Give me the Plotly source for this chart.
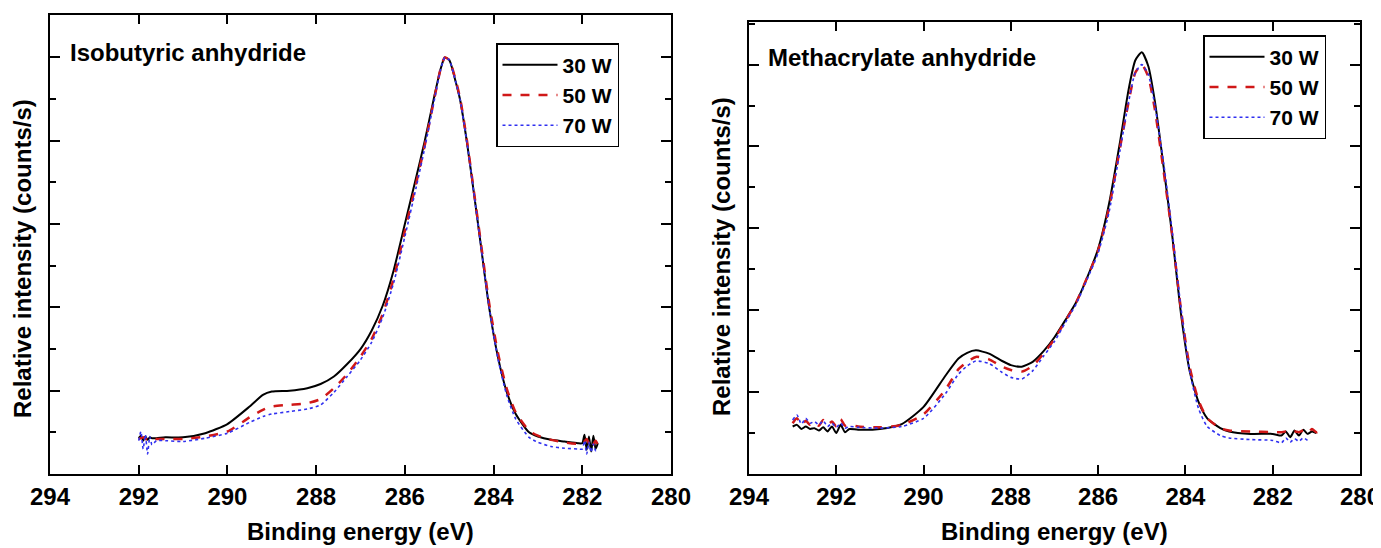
import plotly.graph_objects as go

# ---------------- data ----------------
series_names = ["30 W", "50 W", "70 W"]
x_ticks = [294, 292, 290, 288, 286, 284, 282, 280]

# Left panel: Isobutyric anhydride
iso_x_30 = [292.0, 291.95, 291.9, 291.85, 291.8, 291.75, 291.7, 291.6, 291.4, 291.0, 290.5, 290.0, 289.5, 289.2,
            289.0, 288.6, 288.2, 287.9, 287.6, 287.3, 287.0, 286.75, 286.5, 286.25, 286.0, 285.75, 285.55,
            285.35, 285.2, 285.1, 285.0, 284.85, 284.75, 284.6, 284.45, 284.3, 284.1, 283.9, 283.7, 283.5,
            283.2, 283.0, 282.7, 282.4, 282.1, 282.0, 281.95, 281.9, 281.85, 281.8, 281.75, 281.7, 281.65]
iso_y_30 = [0.43, 0.46, 0.40, 0.45, 0.41, 0.44, 0.43, 0.43, 0.44, 0.44, 0.49, 0.60, 0.81, 0.95,
            0.99, 1.00, 1.03, 1.08, 1.17, 1.32, 1.50, 1.72, 2.02, 2.45, 3.00, 3.55, 4.00,
            4.50, 4.85, 5.00, 4.97, 4.70, 4.48, 3.98, 3.40, 2.80, 2.00, 1.40, 0.98, 0.72,
            0.50, 0.45, 0.41, 0.39, 0.37, 0.37, 0.47, 0.29, 0.45, 0.27, 0.46, 0.30, 0.37]

iso_x_50 = [292.0, 291.9, 291.8, 291.7, 291.6, 291.4, 291.0, 290.5, 290.0, 289.5, 289.2,
            289.0, 288.6, 288.2, 287.9, 287.6, 287.3, 287.0, 286.75, 286.5, 286.25, 286.0, 285.75, 285.55,
            285.35, 285.2, 285.1, 285.0, 284.85, 284.75, 284.6, 284.45, 284.3, 284.1, 283.9, 283.7, 283.5,
            283.2, 283.0, 282.7, 282.4, 282.1, 282.0, 281.9, 281.8, 281.7, 281.65]
iso_y_50 = [0.42, 0.44, 0.41, 0.43, 0.42, 0.42, 0.42, 0.45, 0.51, 0.68, 0.77,
            0.81, 0.83, 0.85, 0.90, 1.03, 1.20, 1.41, 1.62, 1.92, 2.35, 2.92, 3.48, 3.95,
            4.47, 4.85, 5.00, 4.97, 4.72, 4.50, 4.00, 3.42, 2.83, 2.05, 1.45, 1.02, 0.74,
            0.52, 0.46, 0.41, 0.38, 0.36, 0.36, 0.42, 0.31, 0.40, 0.35]

iso_x_70 = [292.0, 291.95, 291.9, 291.85, 291.8, 291.75, 291.7, 291.6, 291.4, 291.0, 290.5, 290.0, 289.5, 289.2,
            289.0, 288.6, 288.2, 287.9, 287.6, 287.3, 287.0, 286.75, 286.5, 286.25, 286.0, 285.75, 285.55,
            285.35, 285.2, 285.1, 285.0, 284.85, 284.75, 284.6, 284.45, 284.3, 284.1, 283.9, 283.7, 283.5,
            283.2, 283.0, 282.7, 282.4, 282.1, 282.0, 281.95, 281.9, 281.85, 281.8, 281.75, 281.7, 281.65]
iso_y_70 = [0.40, 0.51, 0.30, 0.47, 0.24, 0.45, 0.35, 0.40, 0.40, 0.39, 0.43, 0.49, 0.62, 0.69,
            0.72, 0.75, 0.78, 0.83, 0.98, 1.17, 1.37, 1.58, 1.88, 2.30, 2.85, 3.43, 3.92,
            4.45, 4.84, 5.00, 4.97, 4.70, 4.48, 3.98, 3.40, 2.80, 2.00, 1.38, 0.94, 0.66,
            0.44, 0.38, 0.33, 0.31, 0.30, 0.30, 0.40, 0.24, 0.38, 0.26, 0.36, 0.28, 0.31]

# Right panel: Methacrylate anhydride
met_x = [293.0, 292.9, 292.8, 292.7, 292.6, 292.5, 292.4, 292.3, 292.2, 292.1, 292.0, 291.9, 291.8, 291.7,
         291.5, 291.0, 290.5, 290.0, 289.5, 289.2, 289.0, 288.8, 288.5, 288.2, 288.0, 287.75, 287.5, 287.25,
         287.0, 286.75, 286.5, 286.25, 286.0, 285.75, 285.5, 285.3, 285.15, 285.0, 284.85, 284.7, 284.5,
         284.3, 284.1, 283.9, 283.7, 283.5, 283.2, 283.0, 282.5, 282.0, 281.8, 281.7, 281.6, 281.5, 281.4,
         281.3, 281.2, 281.1, 281.0, 280.9, 280.8]
met_y_30 = [0.58, 0.60, 0.55, 0.58, 0.55, 0.56, 0.53, 0.57, 0.52, 0.58, 0.50, 0.60, 0.51, 0.55,
            0.54, 0.55, 0.61, 0.82, 1.20, 1.41, 1.48, 1.51, 1.47, 1.38, 1.33, 1.31, 1.37, 1.50,
            1.67, 1.88, 2.10, 2.40, 2.75, 3.30, 4.05, 4.70, 5.05, 5.15, 4.98, 4.55, 3.75,
            2.90, 1.95, 1.25, 0.88, 0.68, 0.56, 0.52, 0.49, 0.49, 0.47, 0.52, 0.45, 0.53, 0.47,
            0.54, 0.49, 0.52, 0.50, None, None]
met_y_50 = [0.62, 0.68, 0.60, 0.65, 0.60, 0.63, 0.59, 0.66, 0.60, 0.64, 0.58, 0.67, 0.59, 0.60,
            0.58, 0.57, 0.60, 0.73, 1.03, 1.28, 1.37, 1.43, 1.40, 1.31, 1.27, 1.25, 1.32, 1.47,
            1.65, 1.87, 2.10, 2.40, 2.73, 3.25, 3.98, 4.55, 4.90, 5.00, 4.85, 4.45, 3.70,
            2.90, 2.00, 1.30, 0.90, 0.68, 0.56, 0.53, 0.52, 0.51, 0.51, 0.52, 0.50, 0.52, 0.51,
            0.53, 0.50, 0.55, 0.51, 0.53, 0.52]
met_y_70 = [0.66, 0.72, 0.61, 0.68, 0.62, 0.64, 0.60, 0.65, 0.58, 0.62, 0.57, 0.62, 0.56, 0.58,
            0.57, 0.56, 0.58, 0.68, 0.98, 1.22, 1.32, 1.38, 1.35, 1.24, 1.18, 1.16, 1.26, 1.44,
            1.62, 1.85, 2.08, 2.38, 2.70, 3.20, 3.95, 4.55, 4.90, 5.00, 4.88, 4.50, 3.80,
            2.95, 2.02, 1.25, 0.80, 0.58, 0.47, 0.44, 0.42, 0.41, 0.38, 0.44, 0.39, 0.43, 0.40,
            0.44, 0.41, None, None, None, None]

panel_titles = ["Isobutyric anhydride", "Methacrylate anhydride"]
x_title = "Binding energy (eV)"
y_title = "Relative intensity (counts/s)"

# ---------------- figure ----------------
# page has an 8px body margin: figure occupies page pixels 8..1381 x 8..548
PAGE_W, PAGE_H, OFF = 1381, 548, 8
W, H = PAGE_W - OFF, PAGE_H - OFF
FONT = "Liberation Sans, Arial, sans-serif"
styles = [dict(color="black", width=2, dash="solid"),
          dict(color="#d01818", width=2.5, dash="dash"),
          dict(color="#3030f0", width=1.6, dash="dot")]

fig = go.Figure()
left_sets = [(iso_x_30, iso_y_30), (iso_x_50, iso_y_50), (iso_x_70, iso_y_70)]
right_sets = [(met_x, met_y_30), (met_x, met_y_50), (met_x, met_y_70)]
for i, (xs, ys) in enumerate(left_sets):
    fig.add_trace(go.Scatter(x=xs, y=ys, mode="lines", name=series_names[i], line=styles[i],
                             line_shape="spline", line_smoothing=0.6,
                             xaxis="x", yaxis="y", legend="legend"))
for i, (xs, ys) in enumerate(right_sets):
    fig.add_trace(go.Scatter(x=xs, y=ys, mode="lines", name=series_names[i], line=styles[i],
                             line_shape="spline", line_smoothing=0.6, connectgaps=False,
                             xaxis="x2", yaxis="y2", legend="legend2"))

def px_x(p):
    # page x pixel -> paper fraction
    return (p - OFF) / W

def px_y(p):
    # page y pixel (from top) -> paper fraction
    return (PAGE_H - p) / H

xaxis_common = dict(range=[294, 280], tickmode="array", tickvals=x_ticks,
                    ticktext=[str(t) for t in x_ticks], ticks="inside", ticklen=9, tickwidth=1.5,
                    tickcolor="black", showline=True, linecolor="black", linewidth=2, mirror="ticks",
                    showgrid=False, zeroline=False, automargin=False,
                    tickfont=dict(family=FONT, size=24, color="black", weight="bold"),
                    ticklabelstandoff=0)
yaxis_common = dict(tick0=0, dtick=1, ticks="inside", ticklen=10, tickwidth=1.5, tickcolor="black",
                    showticklabels=False, showline=True, linecolor="black", linewidth=2,
                    mirror="ticks", showgrid=False, zeroline=False, automargin=False,
                    minor=dict(dtick=0.5, ticks="inside", ticklen=6, tickwidth=1.5, tickcolor="black"))

legend_font = dict(family=FONT, size=21, color="black", weight="bold")
fig.update_layout(
    width=W, height=H, margin=dict(l=0, r=0, t=0, b=0),
    paper_bgcolor="white", plot_bgcolor="white",
    xaxis=dict(domain=[px_x(50), px_x(671)], anchor="y", **xaxis_common),
    yaxis=dict(domain=[px_y(474), px_y(15)], anchor="x", range=[0, 5.51], **yaxis_common),
    xaxis2=dict(domain=[px_x(749), px_x(1360)], anchor="y2", **xaxis_common),
    yaxis2=dict(domain=[px_y(474), px_y(22)], anchor="x2", range=[0, 5.52], **yaxis_common),
    legend=dict(x=px_x(496), y=px_y(43), xanchor="left", yanchor="top",
                bgcolor="white", bordercolor="black", borderwidth=1.5, itemwidth=55,
                font=legend_font, tracegroupgap=0),
    legend2=dict(x=px_x(1203), y=px_y(35), xanchor="left", yanchor="top",
                 bgcolor="white", bordercolor="black", borderwidth=1.5, itemwidth=55,
                 font=legend_font, tracegroupgap=0),
    showlegend=True,
)

ann_font = dict(family=FONT, size=24, color="black", weight="bold")
title_font = dict(family=FONT, size=24, color="black", weight="bold")
annotations = [
    dict(text=panel_titles[0], x=px_x(68), y=px_y(52), xref="paper", yref="paper",
         xanchor="left", yanchor="middle", showarrow=False, font=ann_font),
    dict(text=panel_titles[1], x=px_x(766), y=px_y(57), xref="paper", yref="paper",
         xanchor="left", yanchor="middle", showarrow=False, font=ann_font),
    dict(text=x_title, x=px_x(360), y=px_y(547), xref="paper", yref="paper",
         xanchor="center", yanchor="bottom", showarrow=False, font=title_font),
    dict(text=x_title, x=px_x(1054), y=px_y(547), xref="paper", yref="paper",
         xanchor="center", yanchor="bottom", showarrow=False, font=title_font),
    dict(text=y_title, x=px_x(22), y=px_y(259), xref="paper", yref="paper", textangle=-90,
         xanchor="center", yanchor="middle", showarrow=False, font=title_font),
    dict(text=y_title, x=px_x(721), y=px_y(257), xref="paper", yref="paper", textangle=-90,
         xanchor="center", yanchor="middle", showarrow=False, font=title_font),
]
fig.update_layout(annotations=annotations)

fig.write_html("out.html")
